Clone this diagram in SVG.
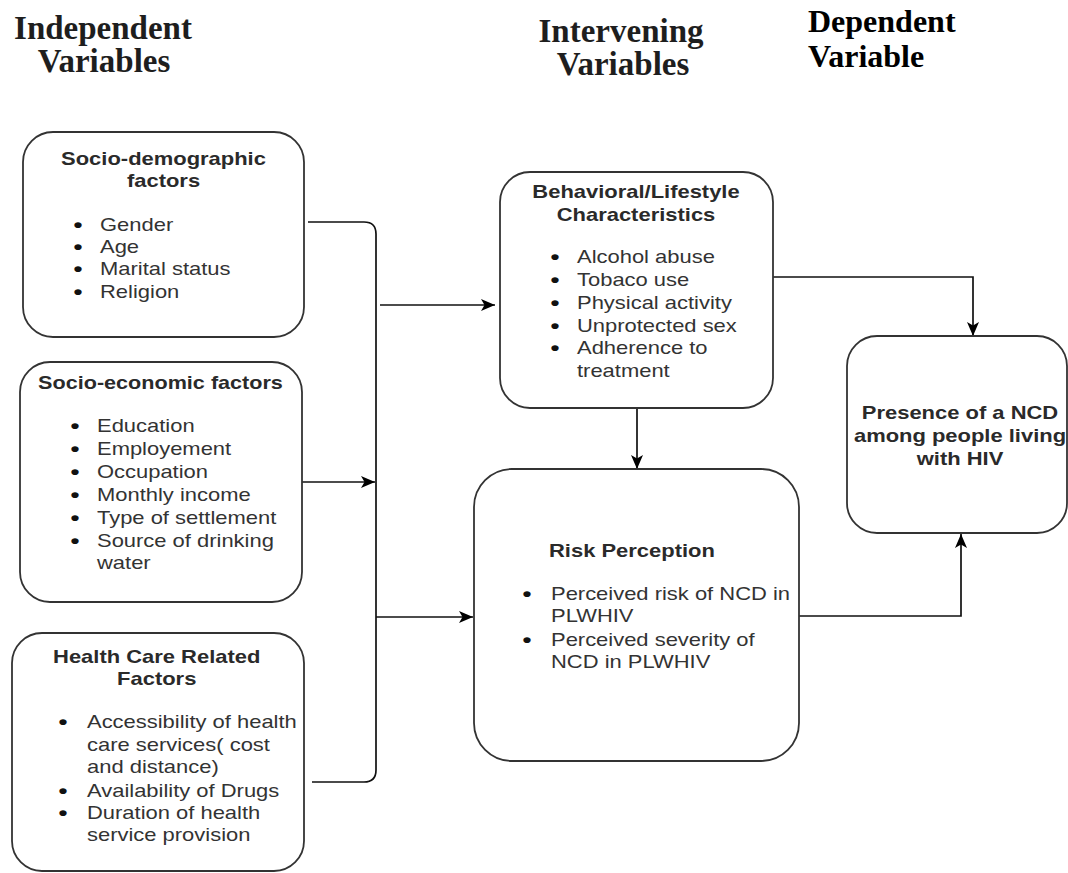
<svg xmlns="http://www.w3.org/2000/svg" width="1068" height="873" viewBox="0 0 1068 873">
<style>
.hdr{font-family:"Liberation Serif","Times New Roman",serif;font-weight:bold;font-size:33px;fill:#1e1e1e;}
.hdr2{font-family:"Liberation Serif","Times New Roman",serif;font-weight:bold;font-size:32px;fill:#000;}
.box{fill:#fff;stroke:#333;stroke-width:1.8;}
.t{font-family:"Liberation Sans",Arial,sans-serif;font-size:18px;font-weight:bold;fill:#2a2a2a;}
.i{font-family:"Liberation Sans",Arial,sans-serif;font-size:18px;fill:#333;}
.b{font-family:"Liberation Sans",Arial,sans-serif;font-size:21px;font-weight:bold;fill:#111;text-anchor:middle;}
.c{fill:none;stroke:#111;stroke-width:1.7;}
</style>
<defs>
<marker id="ah" markerUnits="userSpaceOnUse" markerWidth="15" markerHeight="13" refX="14" refY="6" orient="auto">
<path d="M0,0 L14,6 L0,12 L3.5,6 z" fill="#000"/>
</marker>
</defs>
<rect width="1068" height="873" fill="#fff"/>

<g id="headers">
<text class="hdr" x="103" y="39" text-anchor="middle">Independent</text>
<text class="hdr" x="104" y="72" text-anchor="middle">Variables</text>
<text class="hdr" x="621" y="42" text-anchor="middle">Intervening</text>
<text class="hdr" x="623" y="75" text-anchor="middle">Variables</text>
<text class="hdr2" x="808" y="32">Dependent</text>
<text class="hdr2" x="808" y="67">Variable</text>
</g>

<g id="connectors">
<path class="c" d="M308,222 H364 Q376,222 376,234 V770 Q376,782 364,782 H312"/>
<path class="c" d="M302,482 H375" marker-end="url(#ah)"/>
<path class="c" d="M380,305 H495" marker-end="url(#ah)"/>
<path class="c" d="M376,617 H473" marker-end="url(#ah)"/>
<path class="c" d="M637,408 V469" marker-end="url(#ah)"/>
<path class="c" d="M773,277 H973 V336" marker-end="url(#ah)"/>
<path class="c" d="M799,616 H961 V534" marker-end="url(#ah)"/>
</g>

<g id="socio-demographic">
<rect class="box" x="23" y="132" width="281" height="205" rx="30"/>
<g transform="translate(163.5,0) scale(1.22,1)">
<text class="t" x="0" y="165" text-anchor="middle">Socio-demographic</text>
<text class="t" x="0" y="187" text-anchor="middle">factors</text>
</g>
<g transform="translate(100,0) scale(1.22,1)">
<text class="b" x="-18" y="232">•</text><text class="i" x="0" y="231">Gender</text>
<text class="b" x="-18" y="254">•</text><text class="i" x="0" y="253">Age</text>
<text class="b" x="-18" y="276">•</text><text class="i" x="0" y="275">Marital status</text>
<text class="b" x="-18" y="299">•</text><text class="i" x="0" y="298">Religion</text>
</g>
</g>

<g id="socio-economic">
<rect class="box" x="20" y="362" width="282" height="240" rx="30"/>
<g transform="translate(160.5,0) scale(1.2,1)">
<text class="t" x="0" y="389" text-anchor="middle">Socio-economic factors</text>
</g>
<g transform="translate(97,0) scale(1.22,1)">
<text class="b" x="-18" y="433">•</text><text class="i" x="0" y="432">Education</text>
<text class="b" x="-18" y="456">•</text><text class="i" x="0" y="455">Employement</text>
<text class="b" x="-18" y="479">•</text><text class="i" x="0" y="478">Occupation</text>
<text class="b" x="-18" y="502">•</text><text class="i" x="0" y="501">Monthly income</text>
<text class="b" x="-18" y="525">•</text><text class="i" x="0" y="524">Type of settlement</text>
<text class="b" x="-18" y="548">•</text><text class="i" x="0" y="547">Source of drinking</text>
<text class="i" x="0" y="569">water</text>
</g>
</g>

<g id="health-care">
<rect class="box" x="12" y="633" width="292" height="238" rx="30"/>
<g transform="translate(156.7,0) scale(1.22,1)">
<text class="t" x="0" y="663" text-anchor="middle">Health Care Related</text>
<text class="t" x="0" y="685" text-anchor="middle">Factors</text>
</g>
<g transform="translate(87,0) scale(1.22,1)">
<text class="b" x="-19.7" y="729">•</text><text class="i" x="0" y="728">Accessibility of health</text>
<text class="i" x="0" y="751">care services( cost</text>
<text class="i" x="0" y="773">and distance)</text>
<text class="b" x="-19.7" y="798">•</text><text class="i" x="0" y="797">Availability of Drugs</text>
<text class="b" x="-19.7" y="820">•</text><text class="i" x="0" y="819">Duration of health</text>
<text class="i" x="0" y="841">service provision</text>
</g>
</g>

<g id="behavioral">
<rect class="box" x="500" y="172" width="273" height="236" rx="30"/>
<g transform="translate(636,0) scale(1.22,1)">
<text class="t" x="0" y="198" text-anchor="middle">Behavioral/Lifestyle</text>
<text class="t" x="0" y="221" text-anchor="middle">Characteristics</text>
</g>
<g transform="translate(577,0) scale(1.22,1)">
<text class="b" x="-18" y="264">•</text><text class="i" x="0" y="263">Alcohol abuse</text>
<text class="b" x="-18" y="287">•</text><text class="i" x="0" y="286">Tobaco use</text>
<text class="b" x="-18" y="310">•</text><text class="i" x="0" y="309">Physical activity</text>
<text class="b" x="-18" y="333">•</text><text class="i" x="0" y="332">Unprotected sex</text>
<text class="b" x="-18" y="355">•</text><text class="i" x="0" y="354">Adherence to</text>
<text class="i" x="0" y="377">treatment</text>
</g>
</g>

<g id="risk-perception">
<rect class="box" x="474" y="469" width="325" height="292" rx="38"/>
<g transform="translate(549,0) scale(1.22,1)">
<text class="t" x="0" y="557">Risk Perception</text>
</g>
<g transform="translate(551,0) scale(1.22,1)">
<text class="b" x="-19.7" y="601">•</text><text class="i" x="0" y="600">Perceived risk of NCD in</text>
<text class="i" x="0" y="622">PLWHIV</text>
<text class="b" x="-19.7" y="647">•</text><text class="i" x="0" y="646">Perceived severity of</text>
<text class="i" x="0" y="668">NCD in PLWHIV</text>
</g>
</g>

<g id="ncd-presence">
<rect class="box" x="847" y="336" width="220" height="197" rx="30"/>
<g transform="translate(960,0) scale(1.22,1)">
<text class="t" x="0" y="419" text-anchor="middle">Presence of a NCD</text>
<text class="t" x="0" y="442" text-anchor="middle">among people living</text>
<text class="t" x="0" y="465" text-anchor="middle">with HIV</text>
</g>
</g>
</svg>
